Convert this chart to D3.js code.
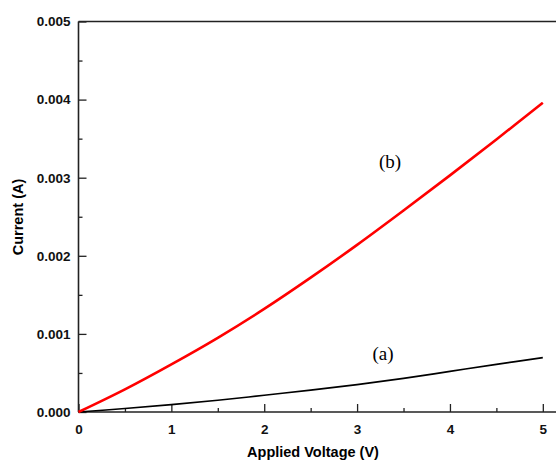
<!DOCTYPE html>
<html>
<head>
<meta charset="utf-8">
<script src="https://cdn.jsdelivr.net/npm/d3@7"></script>
<style>
  body { margin: 0; background: #fff; }
  svg { display: block; }
  .tick text { font-family: "Liberation Sans", Arial, sans-serif; font-weight: bold; font-size: 13.5px; fill: #111; }
</style>
</head>
<body>
<svg width="556" height="460"></svg>
<script>
// I-V measurements: applied voltage (V) vs current (A)
const voltage = [0, 0.5, 1, 1.5, 2, 2.5, 3, 3.5, 4, 4.5, 5];
const currentA = [0, 0.000045, 0.000095, 0.00015, 0.000215, 0.00028, 0.00035, 0.00043, 0.00052, 0.00061, 0.000696];
const currentB = [0, 0.00029, 0.00061, 0.00095, 0.00132, 0.00172, 0.00214, 0.00258, 0.00303, 0.00349, 0.00396];
const xTicks = [0, 1, 2, 3, 4, 5];
const yTicks = [0, 0.001, 0.002, 0.003, 0.004, 0.005];

const svg = d3.select("svg");

const x = d3.scaleLinear().domain([0, 5.142]).range([78.5, 556]);
const y = d3.scaleLinear().domain([0, 0.005]).range([412, 21.5]);

// Minor ticks
const xMinor = d3.range(0.5, 5, 1);
const yMinor = d3.range(0.0005, 0.005, 0.001);

svg.append("g")
  .attr("transform", "translate(0,412)")
  .call(d3.axisBottom(x).tickValues(xMinor).tickSize(-4).tickFormat(""))
  .call(g => g.select(".domain").remove());

svg.append("g")
  .attr("transform", "translate(78.5,0)")
  .call(d3.axisLeft(y).tickValues(yMinor).tickSize(-4).tickFormat(""))
  .call(g => g.select(".domain").remove());

// Major ticks
svg.append("g")
  .attr("transform", "translate(0,412)")
  .call(d3.axisBottom(x).tickValues(xTicks).tickSize(-8).tickPadding(12).tickFormat(d3.format("d")))
  .call(g => g.select(".domain").remove());

svg.append("g")
  .attr("transform", "translate(78.5,0)")
  .call(d3.axisLeft(y).tickValues(yTicks).tickSize(-8).tickPadding(8).tickFormat(d3.format(".3f")))
  .call(g => g.select(".domain").remove());

svg.selectAll(".tick line").attr("stroke", "#222").attr("stroke-width", 1.3);

// Axis frame: left, bottom and top lines
const frame = svg.append("g").attr("stroke", "#222").attr("stroke-width", 1.6).attr("fill", "none");
frame.append("line").attr("x1", 78.5).attr("x2", 78.5).attr("y1", y(0.005)).attr("y2", y(0));
frame.append("line").attr("x1", 78.5).attr("x2", 556).attr("y1", y(0)).attr("y2", y(0));
frame.append("line").attr("x1", 78.5).attr("x2", 556).attr("y1", y(0.005)).attr("y2", y(0.005));

// Curves
const line = d3.line().x((d, i) => x(voltage[i])).y(d => y(d)).curve(d3.curveCatmullRom);

svg.append("path")
  .datum(currentA)
  .attr("fill", "none")
  .attr("stroke", "#000")
  .attr("stroke-width", 1.6)
  .attr("d", line);

svg.append("path")
  .datum(currentB)
  .attr("fill", "none")
  .attr("stroke", "#ff0000")
  .attr("stroke-width", 2.6)
  .attr("d", line);

// Curve labels
svg.append("text")
  .attr("x", 390).attr("y", 168)
  .attr("text-anchor", "middle")
  .style("font-family", "'Liberation Serif', 'Times New Roman', serif")
  .style("font-size", "19px")
  .text("(b)");

svg.append("text")
  .attr("x", 383).attr("y", 360)
  .attr("text-anchor", "middle")
  .style("font-family", "'Liberation Serif', 'Times New Roman', serif")
  .style("font-size", "19px")
  .text("(a)");

// Axis titles
svg.append("text")
  .attr("x", 313).attr("y", 457)
  .attr("text-anchor", "middle")
  .style("font-family", "'Liberation Sans', Arial, sans-serif")
  .style("font-weight", "bold")
  .style("font-size", "14.5px")
  .text("Applied Voltage (V)");

svg.append("text")
  .attr("transform", "translate(23,217) rotate(-90)")
  .attr("text-anchor", "middle")
  .style("font-family", "'Liberation Sans', Arial, sans-serif")
  .style("font-weight", "bold")
  .style("font-size", "14.5px")
  .text("Current (A)");
</script>
</body>
</html>
